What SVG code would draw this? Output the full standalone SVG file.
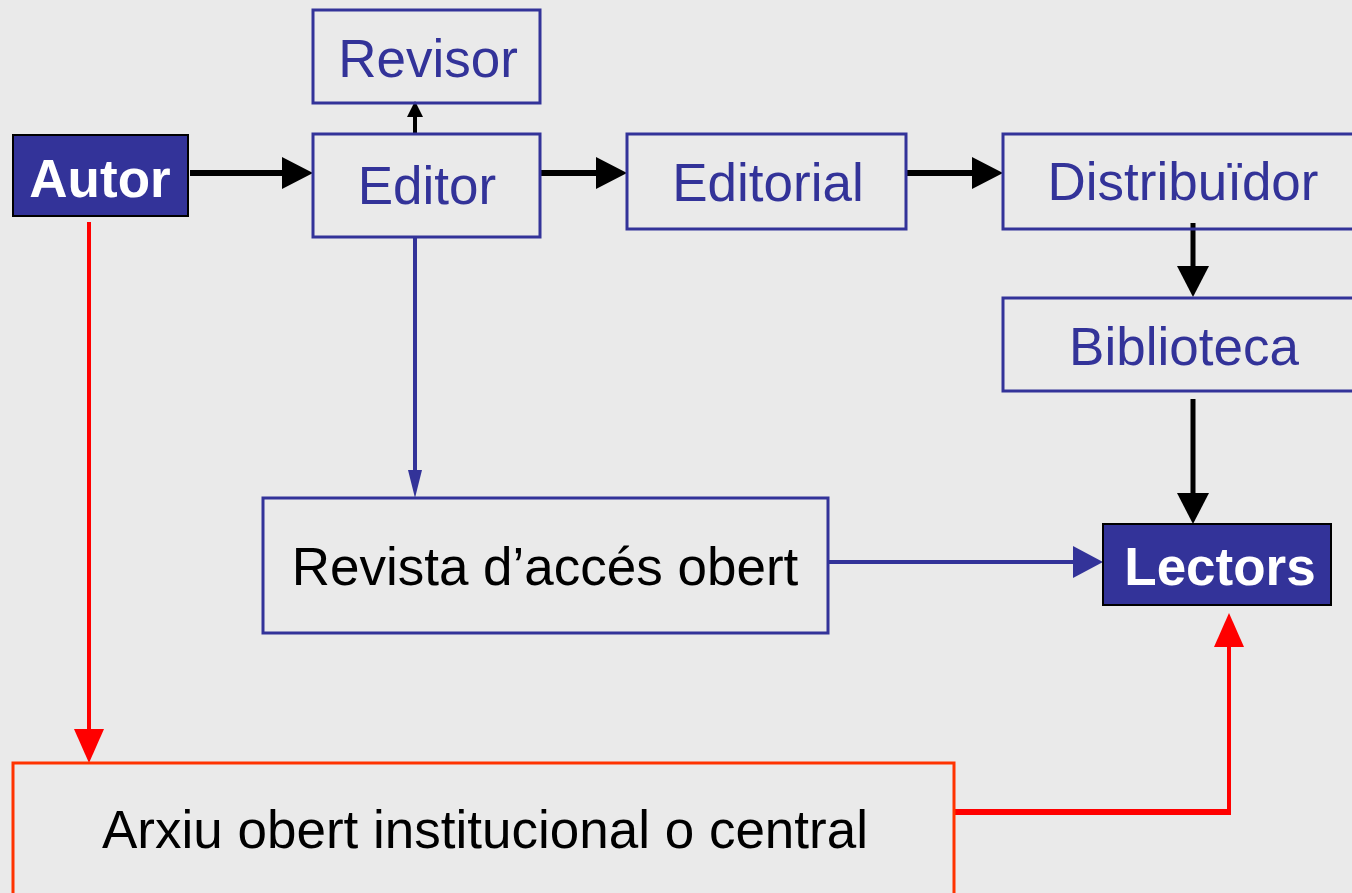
<svg xmlns="http://www.w3.org/2000/svg" width="1352" height="893" viewBox="0 0 1352 893">
<style>
text{font-family:"Liberation Sans",Arial,sans-serif;font-size:53px;text-anchor:middle}
.box{fill:none;stroke:#333399;stroke-width:3}
.dark{fill:#333399;stroke:#000;stroke-width:2}
.lbl{fill:#333399}
.wl{fill:#fff;font-weight:bold}
.bl{fill:#000}
.k{stroke:#000;fill:none}
.b{stroke:#333399;fill:none;stroke-width:4}
.r{stroke:#FF0000;fill:none}
</style>
<defs>
<marker id="ak" markerUnits="userSpaceOnUse" viewBox="0 0 31 32" refX="0" refY="16" markerWidth="31" markerHeight="32" orient="auto"><path d="M0,0L31,16L0,32z" fill="#000"/></marker>
<marker id="aks" markerUnits="userSpaceOnUse" viewBox="0 0 16 16" refX="0" refY="8" markerWidth="16" markerHeight="16" orient="auto"><path d="M0,0L16,8L0,16z" fill="#000"/></marker>
<marker id="abs" markerUnits="userSpaceOnUse" viewBox="0 0 28 14" refX="0" refY="7" markerWidth="28" markerHeight="14" orient="auto"><path d="M0,0L28,7L0,14z" fill="#333399"/></marker>
<marker id="ab" markerUnits="userSpaceOnUse" viewBox="0 0 30 32" refX="0" refY="16" markerWidth="30" markerHeight="32" orient="auto"><path d="M0,0L30,16L0,32z" fill="#333399"/></marker>
<marker id="ar" markerUnits="userSpaceOnUse" viewBox="0 0 34 30" refX="0" refY="15" markerWidth="34" markerHeight="30" orient="auto"><path d="M0,0L34,15L0,30z" fill="#FF0000"/></marker>
</defs>
<rect width="1352" height="893" fill="#EAEAEA"/>
<g id="connectors">
<line class="k" x1="190" y1="173" x2="282" y2="173" stroke-width="6" marker-end="url(#ak)"/>
<line class="k" x1="541" y1="173" x2="596" y2="173" stroke-width="6" marker-end="url(#ak)"/>
<line class="k" x1="906" y1="173" x2="972" y2="173" stroke-width="6" marker-end="url(#ak)"/>
<line class="k" x1="415" y1="134" x2="415" y2="117" stroke-width="4" marker-end="url(#aks)"/>
<line class="k" x1="1193" y1="223" x2="1193" y2="266" stroke-width="5" marker-end="url(#ak)"/>
<line class="k" x1="1193" y1="399" x2="1193" y2="493" stroke-width="5" marker-end="url(#ak)"/>
<line class="b" x1="415" y1="237" x2="415" y2="470" marker-end="url(#abs)"/>
<line class="b" x1="828" y1="562" x2="1073" y2="562" marker-end="url(#ab)"/>
<line class="r" x1="89" y1="222" x2="89" y2="729" stroke-width="4" marker-end="url(#ar)"/>
<line class="r" x1="954" y1="812" x2="1231" y2="812" stroke-width="6"/>
<line class="r" x1="1229" y1="814" x2="1229" y2="647" stroke-width="4" marker-end="url(#ar)"/>
</g>
<g id="autor"><rect class="dark" x="13" y="135" width="175" height="81"/><text class="wl" x="100" y="197">Autor</text></g>
<g id="revisor"><rect class="box" x="313" y="10" width="227" height="93"/><text class="lbl" x="428" y="77">Revisor</text></g>
<g id="editor"><rect class="box" x="313" y="134" width="227" height="103"/><text class="lbl" x="427" y="204">Editor</text></g>
<g id="editorial"><rect class="box" x="627" y="134" width="279" height="95"/><text class="lbl" x="768" y="201">Editorial</text></g>
<g id="distribuidor"><rect class="box" x="1003" y="134" width="360" height="95"/><text class="lbl" x="1183" y="200">Distribuïdor</text></g>
<g id="biblioteca"><rect class="box" x="1003" y="298" width="360" height="93"/><text class="lbl" x="1184" y="365">Biblioteca</text></g>
<g id="lectors"><rect class="dark" x="1103" y="524" width="228" height="81"/><text class="wl" x="1220" y="585">Lectors</text></g>
<g id="revista"><rect class="box" x="263" y="498" width="565" height="135"/><text class="bl" x="545" y="585">Revista d’accés obert</text></g>
<g id="arxiu"><rect x="13" y="763" width="941" height="150" fill="none" stroke="#FF3300" stroke-width="3"/><text class="bl" x="485" y="848">Arxiu obert institucional o central</text></g>
</svg>
